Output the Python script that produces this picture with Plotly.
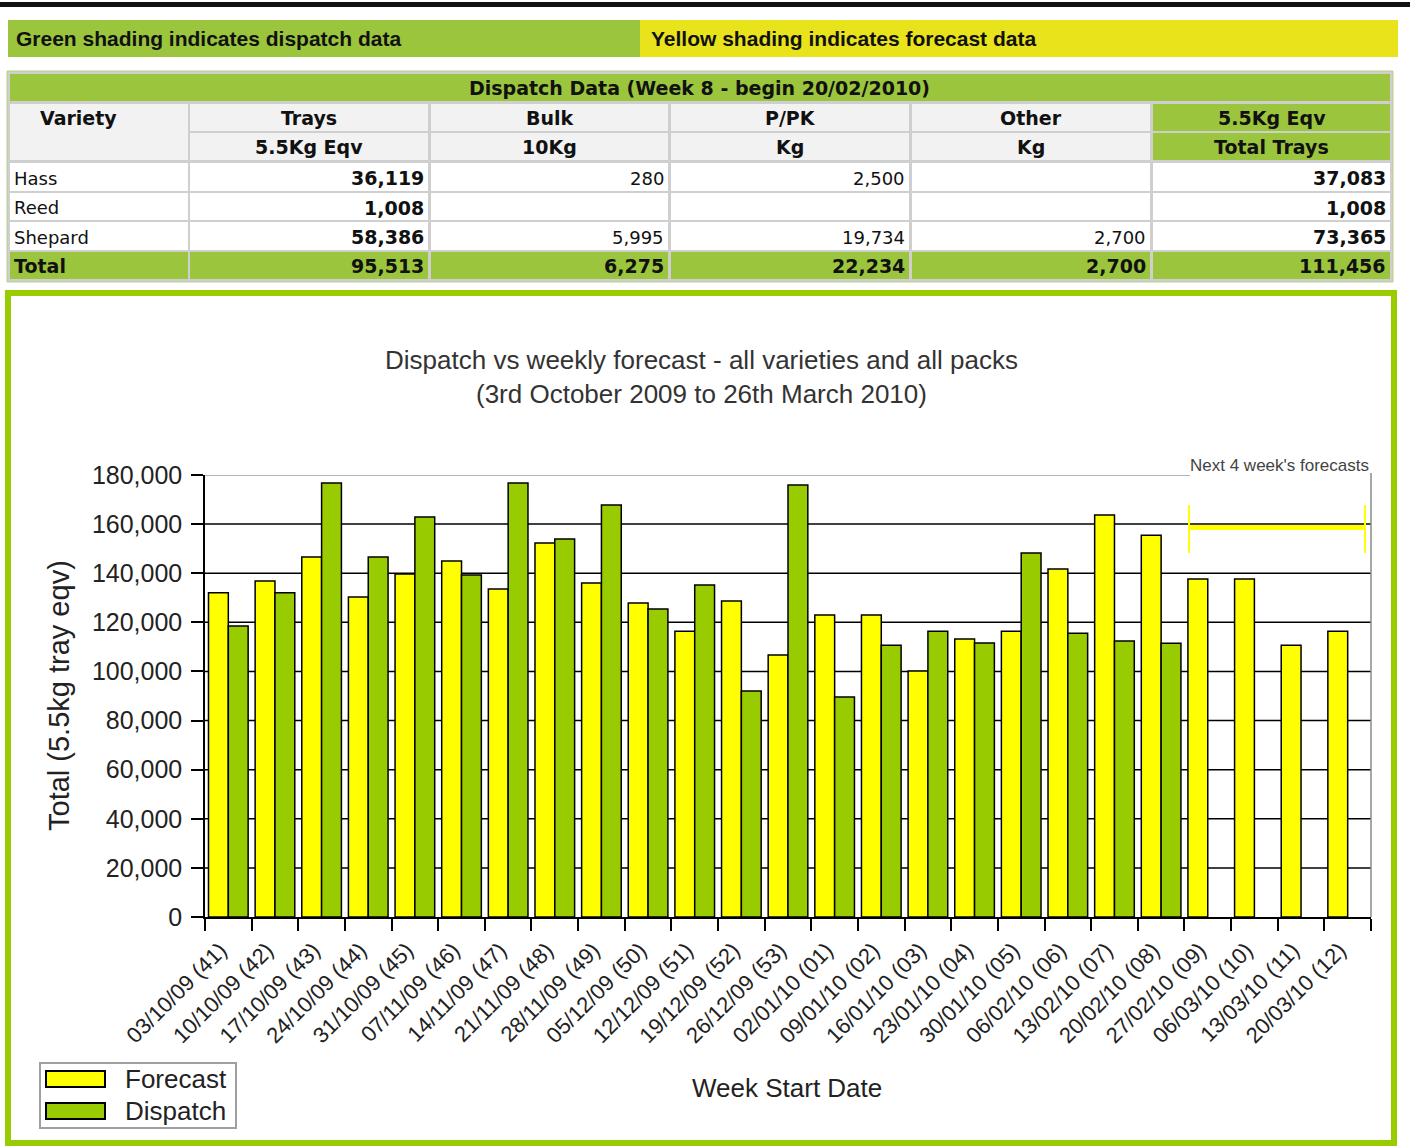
import plotly.graph_objects as go

# ---------------- data ----------------
weeks = ["03/10/09 (41)", "10/10/09 (42)", "17/10/09 (43)", "24/10/09 (44)", "31/10/09 (45)",
         "07/11/09 (46)", "14/11/09 (47)", "21/11/09 (48)", "28/11/09 (49)", "05/12/09 (50)",
         "12/12/09 (51)", "19/12/09 (52)", "26/12/09 (53)", "02/01/10 (01)", "09/01/10 (02)",
         "16/01/10 (03)", "23/01/10 (04)", "30/01/10 (05)", "06/02/10 (06)", "13/02/10 (07)",
         "20/02/10 (08)", "27/02/10 (09)", "06/03/10 (10)", "13/03/10 (11)", "20/03/10 (12)"]
forecast = [132000, 136800, 146600, 130300, 139700, 145000, 133600, 152300, 136000, 127900,
            116400, 128700, 106700, 123000, 123000, 100200, 113200, 116400, 141700, 163700,
            155500, 137600, 137600, 110700, 116400]
dispatch = [118500, 132000, 176700, 146600, 162900, 139300, 176700, 153900, 167800, 125400,
            135200, 92000, 175900, 89600, 110700, 116400, 111600, 148200, 115600, 112400,
            111456, None, None, None, None]

varieties = ["Hass", "Reed", "Shepard"]
trays_55 = [36119, 1008, 58386]
bulk_10 = [280, None, 5995]
ppk_kg = [2500, None, 19734]
other_kg = [None, None, 2700]
total_trays = [37083, 1008, 73365]

table_title = "Dispatch Data (Week 8 - begin 20/02/2010)"
head1 = ["Variety", "Trays", "Bulk", "P/PK", "Other", "5.5Kg Eqv"]
head2 = ["", "5.5Kg Eqv", "10Kg", "Kg", "Kg", "Total Trays"]

F_COLOR = "#ffff00"
D_COLOR = "#99cc00"
HDR_GREEN = "#9bc53d"
HDR_YELLOW = "#e9e31b"

W, H = 1410, 1147


def X(p):
    return p / W


def Y(p):
    return 1 - p / H


shapes = []
annots = []


def rect(x0, y0, x1, y1, fill, line_color=None, lw=0, layer="below"):
    shapes.append(dict(type="rect", xref="paper", yref="paper",
                       x0=X(x0), x1=X(x1), y0=Y(y1), y1=Y(y0),
                       fillcolor=fill, layer=layer,
                       line=dict(color=line_color or fill, width=lw)))


def text(x, y, s, size=18, bold=False, anchor="center", family="DejaVu Sans", color="#111111"):
    annots.append(dict(xref="paper", yref="paper", x=X(x), y=Y(y), text=("<b>%s</b>" % s) if bold else s,
                       showarrow=False, xanchor=anchor, yanchor="middle",
                       font=dict(family=family, size=(19 if bold and size == 18 else size), color=color)))


def fmt(v):
    return "" if v is None else "{:,}".format(v)


# ---------------- page header ----------------
rect(0, 2, W, 7, "#111111")
rect(8, 20, 640, 57, HDR_GREEN)
rect(640, 20, 1398, 57, HDR_YELLOW)
text(14, 38, "Green shading indicates dispatch data", size=21, bold=True, anchor="left",
     family="Liberation Sans, Arial")
text(649, 38, "Yellow shading indicates forecast data", size=21, bold=True, anchor="left",
     family="Liberation Sans, Arial")

# ---------------- table ----------------
cols = [(10, 188), (190, 428), (431, 668), (671, 909), (912, 1150), (1153, 1390)]
rect(7, 71, 1393, 282, "#cfcfcf", "#b9cf8a", 1)
rect(10, 74, 1390, 101, HDR_GREEN)
text(699, 88, table_title, bold=True)

rowA = (104, 131)
rowB = (133, 160)
for i, (c0, c1) in enumerate(cols):
    fill = HDR_GREEN if i == 5 else "#f2f2f2"
    if i == 0:
        rect(c0, rowA[0], c1, rowB[1], fill)
        text(c0 + 28, 118, head1[i], bold=True, anchor="left")
        continue
    rect(c0, rowA[0], c1, rowA[1], fill)
    rect(c0, rowB[0], c1, rowB[1], fill)
    text((c0 + c1) / 2, 118, head1[i], bold=True)
    text((c0 + c1) / 2, 147, head2[i], bold=True)

data_rows = [(163, 191), (193, 220), (222, 250)]
for r, (r0, r1) in enumerate(data_rows):
    vals = [trays_55[r], bulk_10[r], ppk_kg[r], other_kg[r], total_trays[r]]
    for i, (c0, c1) in enumerate(cols):
        rect(c0, r0, c1, r1, "#ffffff")
        ym = (r0 + r1) / 2 + 1
        if i == 0:
            text(c0 + 2, ym, varieties[r], anchor="left")
        else:
            v = vals[i - 1]
            text(c1 - 2, ym, fmt(v), bold=(i in (1, 5)), anchor="right")

tot_vals = [sum(v for v in col if v is not None) for col in (trays_55, bulk_10, ppk_kg, other_kg, total_trays)]
for i, (c0, c1) in enumerate(cols):
    rect(c0, 252, c1, 279, HDR_GREEN)
    if i == 0:
        text(c0 + 2, 266, "Total", bold=True, anchor="left")
    else:
        text(c1 - 2, 266, fmt(tot_vals[i - 1]), bold=True, anchor="right")

# ---------------- chart frame ----------------
rect(8, 293, 1394, 1143, "#ffffff", D_COLOR, 6)

PL, PR, PT, PB = 205, 1371, 475, 917

# gridlines (below bars)
for v in range(20000, 180000, 20000):
    shapes.append(dict(type="line", xref="x domain", yref="y", x0=0, x1=1, y0=v, y1=v,
                       line=dict(color="#000000", width=1.5), layer="below"))
shapes.append(dict(type="line", xref="paper", yref="y", x0=X(PL), x1=X(1190), y0=180000, y1=180000,
                   line=dict(color="#9a9a9a", width=1.5), layer="below"))
shapes.append(dict(type="line", xref="paper", yref="paper", x0=X(PR), x1=X(PR), y0=Y(PB), y1=Y(473),
                   line=dict(color="#8a8a8a", width=1.5), layer="below"))

# forecast bracket
shapes.append(dict(type="line", xref="paper", yref="paper", x0=X(1189), x1=X(1365), y0=Y(527.5), y1=Y(527.5),
                   line=dict(color="#ffff00", width=5), layer="above"))
for xx in (1189, 1365):
    shapes.append(dict(type="line", xref="paper", yref="paper", x0=X(xx), x1=X(xx), y0=Y(505), y1=Y(553),
                       line=dict(color="#ffff00", width=2), layer="above"))

CH_FONT = "Liberation Sans, Arial, sans-serif"
annots.append(dict(xref="paper", yref="paper", x=X(1279), y=Y(465),
                   text="Next 4 week's forecasts", showarrow=False, xanchor="center", yanchor="middle",
                   font=dict(family=CH_FONT, size=17, color="#444444")))

# title
annots.append(dict(xref="paper", yref="paper", x=X(701), y=Y(377),
                   text="Dispatch vs weekly forecast - all varieties and all packs<br>(3rd October 2009 to 26th March 2010)",
                   showarrow=False, xanchor="center", yanchor="middle",
                   font=dict(family=CH_FONT, size=26, color="#333333")))
# axis titles
annots.append(dict(xref="paper", yref="paper", x=X(59), y=Y(696), text="Total (5.5kg tray eqv)",
                   textangle=-90, showarrow=False, xanchor="center", yanchor="middle",
                   font=dict(family=CH_FONT, size=29, color="#222222")))
annots.append(dict(xref="paper", yref="paper", x=X(787), y=Y(1088), text="Week Start Date",
                   showarrow=False, xanchor="center", yanchor="middle",
                   font=dict(family=CH_FONT, size=26, color="#222222")))

# legend (custom)
rect(40, 1063, 236, 1128, "#ffffff", "#a0a0a0", 2, layer="above")
rect(46, 1071, 105, 1087, F_COLOR, "#000000", 2, layer="above")
rect(46, 1103, 105, 1119, D_COLOR, "#000000", 2, layer="above")
annots.append(dict(xref="paper", yref="paper", x=X(123), y=Y(1079), text="Forecast", showarrow=False,
                   xanchor="left", yanchor="middle", font=dict(family=CH_FONT, size=26, color="#222222")))
annots.append(dict(xref="paper", yref="paper", x=X(123), y=Y(1111), text="Dispatch", showarrow=False,
                   xanchor="left", yanchor="middle", font=dict(family=CH_FONT, size=26, color="#222222")))

fig = go.Figure()
fig.add_trace(go.Bar(x=weeks, y=forecast, name="Forecast", marker=dict(color=F_COLOR, line=dict(color="#000000", width=1.5))))
fig.add_trace(go.Bar(x=weeks, y=dispatch, name="Dispatch", marker=dict(color=D_COLOR, line=dict(color="#000000", width=1.5))))

fig.update_layout(
    width=W, height=H, autosize=False,
    margin=dict(l=0, r=0, t=0, b=0, pad=0),
    paper_bgcolor="#ffffff", plot_bgcolor="rgba(0,0,0,0)",
    barmode="group", bargap=0.15, bargroupgap=0.0,
    showlegend=False,
    shapes=shapes, annotations=annots,
    xaxis=dict(domain=[X(PL), X(PR)], type="category", tickson="boundaries", automargin=False,
               ticks="outside", ticklen=12, tickwidth=1.5, tickcolor="#000000",
               showline=True, linecolor="#000000", linewidth=1.5, showgrid=False,
               ticklabelstandoff=10, ticklabelshift=-8,
               tickangle=-45, tickfont=dict(family=CH_FONT, size=22, color="#222222")),
    yaxis=dict(domain=[Y(PB), Y(PT)], range=[0, 180000], dtick=20000, tickformat=",", automargin=False,
               ticks="outside", ticklen=12, tickwidth=1.5, tickcolor="#000000",
               showline=True, linecolor="#000000", linewidth=1.5, showgrid=False, zeroline=False,
               ticklabelstandoff=4,
               tickfont=dict(family=CH_FONT, size=25, color="#222222")),
)

fig.write_html("out.html", config={"displayModeBar": False},
               post_script="document.body.style.margin='0px';")
